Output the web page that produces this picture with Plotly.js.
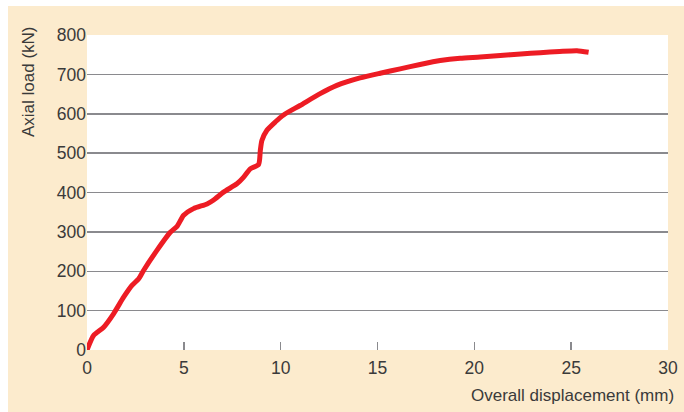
<!DOCTYPE html>
<html>
<head>
<meta charset="utf-8">
<script src="https://cdn.plot.ly/plotly-3.0.1.min.js"></script>
<style>
  html, body { margin: 0; padding: 0; background: #ffffff; }
  #chart { position: absolute; left: 8px; top: 6px; width: 676px; height: 406px; }
</style>
</head>
<body>
<div id="chart"></div>
<script>
// Overall displacement (mm)
const displacement = [0, 0.34, 0.86, 1.37, 1.89, 2.32, 2.67, 2.92, 3.61, 4.30, 4.65, 4.99, 5.50, 6.20, 6.54, 7.05, 7.74, 8.09, 8.43, 8.86, 8.95, 9.03, 9.29, 9.72, 10.15, 11.0, 12.04, 12.9, 14.1, 15.14, 16.17, 17.2, 18.24, 19.27, 20.3, 21.34, 22.4, 23.4, 24.4, 25.3, 25.9];
// Axial load (kN)
const axialLoad = [0, 37, 58, 92, 134, 164, 181, 202, 253, 299, 314, 342, 359, 371, 381, 401, 422, 439, 460, 471, 507, 532, 558, 579, 597, 621, 651, 672, 691, 703, 714, 725, 735, 741, 744, 748, 752, 755, 758, 760, 756];

const xTicks = [0, 5, 10, 15, 20, 25, 30];
const yTicks = [0, 100, 200, 300, 400, 500, 600, 700, 800];
const xTitle = 'Overall displacement (mm)';
const yTitle = 'Axial load (kN)';

const fontFamily = '"Liberation Sans", Arial, sans-serif';
const textColor = '#3a3a3a';

const trace = {
  x: displacement,
  y: axialLoad,
  type: 'scatter',
  mode: 'lines',
  line: { color: '#ED1C24', width: 5, shape: 'spline', smoothing: 0.6 },
  cliponaxis: false,
  hoverinfo: 'skip'
};

const layout = {
  width: 676,
  height: 406,
  margin: { l: 79, r: 16, t: 29, b: 62 },
  paper_bgcolor: '#FCEBCD',
  plot_bgcolor: '#FFFFFF',
  showlegend: false,
  font: { family: fontFamily, size: 17.5, color: textColor },
  xaxis: {
    range: [0, 30],
    tickvals: xTicks,
    ticktext: xTicks.map(String),
    ticks: 'inside',
    ticklen: 8,
    tickwidth: 1.5,
    tickcolor: '#8a8a8e',
    ticklabelstandoff: 5,
    showgrid: false,
    zeroline: false,
    showline: false,
    tickfont: { family: fontFamily, size: 17.5, color: textColor }
  },
  yaxis: {
    range: [0, 800],
    tickvals: yTicks,
    ticktext: yTicks.map(String),
    ticks: '',
    showgrid: true,
    gridcolor: '#8a8a8e',
    gridwidth: 1.5,
    zeroline: false,
    showline: false,
    tickfont: { family: fontFamily, size: 17.5, color: textColor }
  },
  annotations: [
    {
      text: xTitle,
      xref: 'paper', yref: 'paper',
      x: 1, y: 0,
      xanchor: 'right', yanchor: 'middle',
      xshift: 8, yshift: -45,
      showarrow: false,
      font: { family: fontFamily, size: 17, color: textColor }
    },
    {
      text: yTitle,
      xref: 'paper', yref: 'paper',
      x: 0, y: 1,
      xanchor: 'center', yanchor: 'middle',
      xshift: -59, yshift: -47,
      textangle: -90,
      showarrow: false,
      font: { family: fontFamily, size: 17, color: textColor }
    }
  ]
};

Plotly.newPlot('chart', [trace], layout, { staticPlot: true, displayModeBar: false });
</script>
</body>
</html>
